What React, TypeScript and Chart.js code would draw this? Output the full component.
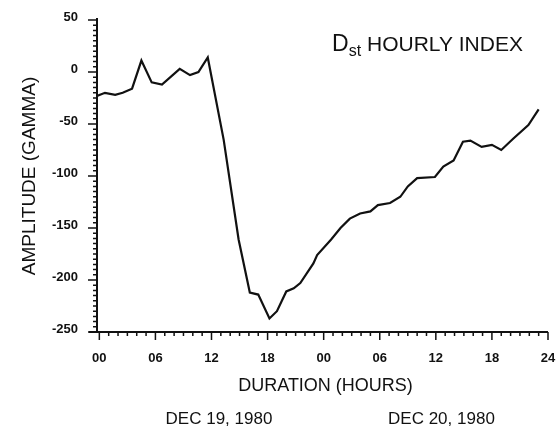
import React, { useEffect, useRef } from "react";
import { Chart, registerables } from "chart.js";

Chart.register(...registerables);

// Hour positions (hours from 00 UT, Dec 19 1980) of the plotted Dst values
const hours = [
  -0.25, 0.6, 1.7, 2.5, 3.5, 4.5, 5.6, 6.7, 8.6, 9.7, 10.6, 11.6, 13.3, 14.9, 16.1,
  17.0, 18.2, 19.0, 20.0, 20.8, 21.5, 22.9, 23.3, 24.8, 25.8, 26.8, 27.9, 29.0, 29.8,
  31.1, 32.2, 33.0, 34.0, 35.9, 36.8, 37.9, 38.9, 39.7, 40.9, 42.0, 43.0, 44.3, 45.9, 47.0,
];
// Dst amplitude (gamma)
const dst = [
  -23, -20, -22, -20, -16, 11, -10, -12, 3, -3, 0, 14, -65, -161, -212,
  -214, -237, -230, -211, -208, -203, -184, -176, -161, -150, -141, -136, -134, -128,
  -126, -120, -110, -102, -101, -91, -85, -67, -66, -72, -70, -75, -64, -51, -36,
];

const xTickValues = [0, 6, 12, 18, 24, 30, 36, 42, 48];
const xTickLabels = ["00", "06", "12", "18", "00", "06", "12", "18", "24"];
const yTickValues = [50, 0, -50, -100, -150, -200, -250];
const dateLabels = ["DEC 19, 1980", "DEC 20, 1980"];
const dateCenters = [12.8, 36.6];
const xTitle = "DURATION (HOURS)";
const yTitle = "AMPLITUDE (GAMMA)";
const titleMain = "D";
const titleSub = "st";
const titleRest = " HOURLY INDEX";

const FONT = "'Liberation Sans', Arial, sans-serif";

const decorPlugin = {
  id: "decor",
  afterDraw(chart: any) {
    const ctx = chart.ctx;
    const xs = chart.scales.x;
    const ys = chart.scales.y;
    const { left, right, top, bottom } = chart.chartArea;
    ctx.save();
    ctx.strokeStyle = "#111";
    ctx.fillStyle = "#111";
    // axis lines
    ctx.lineWidth = 2;
    ctx.beginPath();
    ctx.moveTo(left - 8, bottom);
    ctx.lineTo(right, bottom);
    ctx.moveTo(left, top - 2);
    ctx.lineTo(left, bottom);
    ctx.stroke();
    // y ticks every 5
    ctx.lineWidth = 1.5;
    ctx.beginPath();
    for (let v = -250; v <= 50; v += 5) {
      const py = ys.getPixelForValue(v);
      const len = v % 50 === 0 ? 9 : 4;
      ctx.moveTo(left - len, py);
      ctx.lineTo(left, py);
    }
    // x ticks every hour
    for (let h = 0; h <= 48; h += 1) {
      const px = xs.getPixelForValue(h);
      const len = h % 6 === 0 ? 8 : 4;
      ctx.moveTo(px, bottom);
      ctx.lineTo(px, bottom + len);
    }
    ctx.stroke();

    // x title
    ctx.font = `18px ${FONT}`;
    ctx.textAlign = "center";
    ctx.textBaseline = "middle";
    ctx.fillText(xTitle, xs.getPixelForValue(24.2), bottom + 54);
    // dates
    ctx.font = `17px ${FONT}`;
    dateLabels.forEach((d, i) => {
      ctx.fillText(d, xs.getPixelForValue(dateCenters[i]), bottom + 87);
    });
    // y title
    ctx.save();
    ctx.translate(30, (top + bottom) / 2);
    ctx.rotate(-Math.PI / 2);
    ctx.font = `19px ${FONT}`;
    ctx.textAlign = "center";
    ctx.textBaseline = "middle";
    ctx.fillText(yTitle, 0, 0);
    ctx.restore();

    // chart title with subscript
    ctx.textAlign = "left";
    ctx.textBaseline = "alphabetic";
    let tx = xs.getPixelForValue(24.9);
    const ty = ys.getPixelForValue(20);
    ctx.font = `23px ${FONT}`;
    ctx.fillText(titleMain, tx, ty);
    tx += ctx.measureText(titleMain).width;
    ctx.font = `16px ${FONT}`;
    ctx.fillText(titleSub, tx, ty + 5);
    tx += ctx.measureText(titleSub).width;
    ctx.font = `21px ${FONT}`;
    ctx.fillText(titleRest, tx, ty);
    ctx.restore();
  },
};

export default function App() {
  const ref = useRef<HTMLCanvasElement | null>(null);
  useEffect(() => {
    if (!ref.current) return;
    const chart = new Chart(ref.current, {
      type: "line",
      data: {
        datasets: [
          {
            data: hours.map((h, i) => ({ x: h, y: dst[i] })),
            borderColor: "#111",
            borderWidth: 2.2,
            pointRadius: 0,
            tension: 0,
            fill: false,
          },
        ],
      },
      options: {
        animation: false,
        responsive: false,
        devicePixelRatio: 1,
        layout: { padding: { top: 20, right: 10, left: 0, bottom: 0 } },
        plugins: { legend: { display: false }, tooltip: { enabled: false } },
        scales: {
          x: {
            type: "linear",
            min: -0.25,
            max: 48,
            grid: {
              display: true,
              drawOnChartArea: false,
              drawTicks: true,
              tickLength: 19,
              tickColor: "rgba(0,0,0,0)",
            },
            border: { display: false },
            afterBuildTicks: (scale: any) => {
              scale.ticks = xTickValues.map((v) => ({ value: v }));
            },
            afterFit: (scale: any) => {
              scale.height = 98;
            },
            ticks: {
              autoSkip: false,
              maxRotation: 0,
              padding: 0,
              color: "#111",
              font: { family: FONT, size: 13, weight: "bold" },
              callback: (v: any) => {
                const i = xTickValues.indexOf(Number(v));
                return i >= 0 ? xTickLabels[i] : "";
              },
            },
          },
          y: {
            type: "linear",
            min: -250,
            max: 50,
            grid: {
              display: true,
              drawOnChartArea: false,
              drawTicks: true,
              tickLength: 19,
              tickColor: "rgba(0,0,0,0)",
            },
            border: { display: false },
            afterBuildTicks: (scale: any) => {
              scale.ticks = yTickValues.map((v) => ({ value: v }));
            },
            afterFit: (scale: any) => {
              scale.width = 97;
            },
            ticks: {
              padding: 0,
              labelOffset: -3,
              color: "#111",
              font: { family: FONT, size: 13, weight: "bold" },
              callback: (v: any) => String(v),
            },
          },
        },
      },
      plugins: [decorPlugin],
    });
    return () => chart.destroy();
  }, []);
  return (
    <div style={{ position: "fixed", left: 0, top: 0, width: 558, height: 430, background: "#fff" }}>
      <canvas ref={ref} width={558} height={430} style={{ width: 558, height: 430 }} />
    </div>
  );
}
